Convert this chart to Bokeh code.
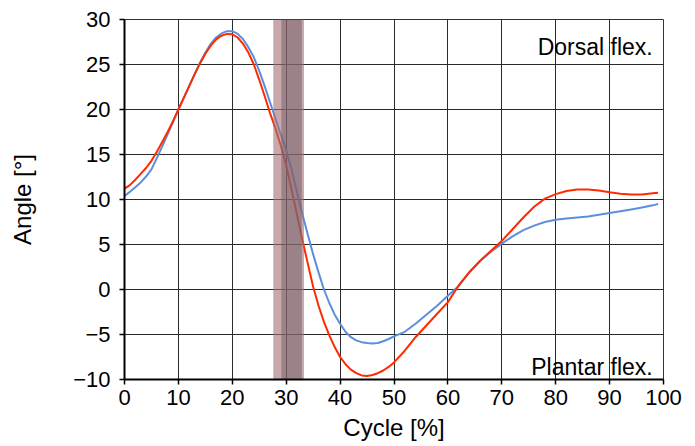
from bokeh.plotting import figure
from bokeh.models import Range1d, FixedTicker, Label
from bokeh.embed import file_html
from bokeh.resources import INLINE

# ---- data ----
cycle = [0, 1, 2, 3, 4, 5, 6, 7, 8, 9, 10, 11, 12, 13, 14, 15, 16, 17, 18, 19, 20,
         21, 22, 23, 24, 25, 26, 27, 28, 29, 30, 31, 32, 33, 34, 35, 36, 37, 38, 39,
         40, 41, 42, 43, 44, 45, 46, 47, 48, 49, 50, 52, 54, 56, 58, 60, 62, 64, 66,
         68, 70, 72, 74, 76, 78, 80, 82, 84, 86, 88, 90, 92, 94, 96, 98, 99]
angle_red = [11.2, 11.6, 12.2, 12.85, 13.5, 14.3, 15.3, 16.4, 17.5, 18.7, 20.0,
             21.3, 22.6, 23.9, 25.1, 26.2, 27.1, 27.8, 28.2, 28.4, 28.35,
             28.0, 27.3, 26.3, 25.0, 23.3, 21.5, 19.6, 17.9, 16.0, 13.8,
             11.1, 8.3, 5.5, 2.9, 0.3, -1.8, -3.6, -5.1, -6.4, -7.5,
             -8.3, -8.9, -9.3, -9.55, -9.6, -9.5, -9.3, -9.0, -8.6, -8.1,
             -6.8, -5.3, -4.0, -2.7, -1.4, 0.45, 1.95, 3.2, 4.3, 5.4,
             6.7, 8.0, 9.2, 10.1, 10.6, 10.95, 11.1, 11.1, 11.0, 10.8,
             10.65, 10.55, 10.55, 10.7, 10.75]
angle_blue = [10.4, 10.85, 11.35, 11.9, 12.55, 13.35, 14.6, 15.9, 17.25, 18.6, 20.0,
              21.3, 22.6, 23.9, 25.2, 26.3, 27.3, 28.0, 28.45, 28.7, 28.7,
              28.4, 27.8, 26.9, 25.8, 24.3, 22.6, 20.8, 19.0, 17.2, 15.5,
              13.3, 10.8, 8.4, 6.1, 3.9, 1.9, 0.0, -1.5, -2.8, -3.8,
              -4.7, -5.3, -5.65, -5.85, -5.95, -6.0, -5.95, -5.75, -5.5, -5.2,
              -4.7, -3.8, -2.8, -1.8, -0.7, 0.4, 1.9, 3.2, 4.2, 5.1,
              5.9, 6.6, 7.1, 7.5, 7.75, 7.9, 8.0, 8.1, 8.3, 8.5,
              8.7, 8.9, 9.1, 9.35, 9.5]
band_outer = [27.6, 33.3]
band_inner = [29.1, 32.9]
x_ticks = [0, 10, 20, 30, 40, 50, 60, 70, 80, 90, 100]
y_ticks = [-10, -5, 0, 5, 10, 15, 20, 25, 30]
label_top = "Dorsal flex."
label_bottom = "Plantar flex."

FONT = "Liberation Sans"

p = figure(width=695, height=446, output_backend="svg", toolbar_location=None,
           x_range=Range1d(0, 100), y_range=Range1d(-10, 30),
           min_border_left=124, min_border_right=32, min_border_top=19,
           min_border_bottom=67)
p.background_fill_color = "white"
p.border_fill_color = "white"
p.outline_line_color = "#333333"
p.outline_line_width = 1

for ax in (p.xaxis[0], p.yaxis[0]):
    ax.axis_line_color = "black"
    ax.axis_line_width = 2
    ax.major_tick_line_color = "black"
    ax.major_tick_line_width = 1.5
    ax.major_tick_in = 0
    ax.major_tick_out = 5
    ax.minor_tick_line_color = None
    ax.major_label_text_font = FONT
    ax.major_label_text_font_size = "22px"
    ax.major_label_text_color = "black"
    ax.axis_label_text_font = FONT
    ax.axis_label_text_font_size = "24px"
    ax.axis_label_text_font_style = "normal"
    ax.axis_label_text_color = "black"

p.xaxis.ticker = FixedTicker(ticks=x_ticks)
p.yaxis.ticker = FixedTicker(ticks=y_ticks)
p.xaxis.axis_label = "Cycle [%]"
p.yaxis.axis_label = "Angle [°]"
p.xaxis.major_label_standoff = 5
p.yaxis.major_label_standoff = 9
p.xaxis.axis_label_standoff = 6
p.yaxis.axis_label_standoff = 34

for g in (p.xgrid[0], p.ygrid[0]):
    g.grid_line_color = "#2a2a2a"
    g.grid_line_width = 1

p.line(cycle, angle_blue, line_color="#5b8fdc", line_width=2)
p.line(cycle, angle_red, line_color="#ff2a00", line_width=2)

p.quad(left=[band_outer[0]], right=[band_outer[1]], bottom=[-10], top=[30],
       fill_color="#a36e71", fill_alpha=0.6, line_color=None)
p.quad(left=[band_inner[0]], right=[band_inner[1]], bottom=[-10], top=[30],
       fill_color="#6e5c68", fill_alpha=0.5, line_color=None)

p.add_layout(Label(x=98, y=26.9, text=label_top, text_align="right",
                   text_baseline="alphabetic", text_font=FONT,
                   text_font_size="23px", text_color="black"))
p.add_layout(Label(x=98, y=-8.56, text=label_bottom, text_align="right",
                   text_baseline="alphabetic", text_font=FONT,
                   text_font_size="23px", text_color="black"))

open("out.html", "w").write(file_html(p, INLINE))
